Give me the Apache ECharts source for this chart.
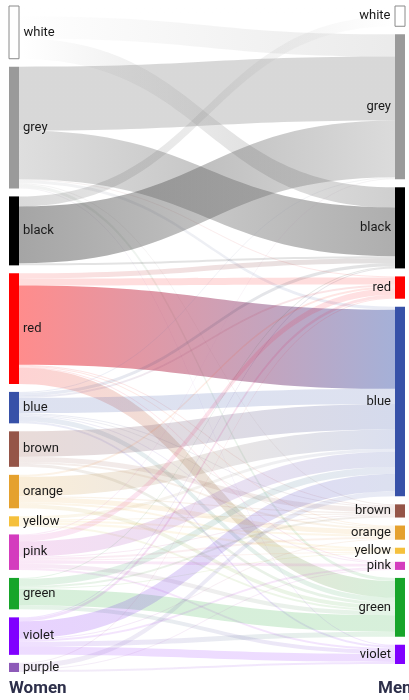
<!DOCTYPE html>
<html>
<head>
<meta charset="utf-8">
<script src="https://cdn.jsdelivr.net/npm/echarts@6/dist/echarts.min.js"></script>
<style>
html,body{margin:0;padding:0;background:#fff;}
#chart{width:409px;height:700px;}
</style>
</head>
<body>
<div id="chart"></div>
<script>
// Categories
const womenColors = ['white','grey','black','red','blue','brown','orange','yellow','pink','green','violet','purple'];
const menColors   = ['white','grey','black','red','blue','brown','orange','yellow','pink','green','violet'];

// Flows from each women's colour to men's colours (in menColors order)
const fromWhite  = [10,22,20, 0, 0, 0, 0, 0, 0, 0, 0];
const fromGrey   = [ 0,63,48, 1, 3, 1, 0, 0, 0, 3, 1];
const fromBlack  = [10,56, 2, 0, 0, 0, 0, 0, 0, 0, 0];
const fromRed    = [ 0, 0, 5, 7,78, 1, 1, 0, 1,16, 0];
const fromBlue   = [ 0, 1, 3, 2,15, 1, 1, 0, 1, 5, 2];
const fromBrown  = [ 0, 0, 0, 0,25, 5, 2, 0, 0, 3, 0];
const fromOrange = [ 0, 0, 0, 2,19, 1, 5, 2, 0, 4, 0];
const fromYellow = [ 0, 0, 0, 0, 3, 1, 2, 2, 0, 2, 0];
const fromPink   = [ 0, 1, 0, 6,15, 1, 2, 1, 3, 4, 2];
const fromGreen  = [ 0, 0, 1, 0, 7, 2, 0, 1, 0,16, 4];
const fromViolet = [ 0, 0, 1, 3,17, 0, 1, 0, 2, 5, 8];
const fromPurple = [ 0, 0, 0, 1, 5, 0, 0, 0, 1, 0, 2];
const flowRows = [fromWhite,fromGrey,fromBlack,fromRed,fromBlue,fromBrown,fromOrange,fromYellow,fromPink,fromGreen,fromViolet,fromPurple];

// Colour swatches
const swatch = {
  white:'#ffffff', grey:'#9a9a9a', black:'#000000', red:'#ff0000', blue:'#3751a8',
  brown:'#955548', orange:'#e5a12e', yellow:'#f5c03c', pink:'#d43cbe', green:'#17a52a',
  violet:'#8000ff', purple:'#8d5ab8'
};

function nodeItem(prefix, c, side){
  return {
    name: prefix + c,
    itemStyle: c === 'white'
      ? {color:'#ffffff', borderColor:'#8a8a8a', borderWidth:1}
      : {color: swatch[c], borderWidth:0},
    label: {position: side, distance: 4}
  };
}
const nodes = womenColors.map(c => nodeItem('W:', c, 'right'))
  .concat(menColors.map(c => nodeItem('M:', c, 'left')));

const links = [];
womenColors.forEach((w, i) => {
  flowRows[i].forEach((v, j) => {
    if (v > 0) links.push({
      source:'W:' + w, target:'M:' + menColors[j], value:v,
      lineStyle:{opacity: 0.1 + 0.0045 * v}
    });
  });
});

const chart = echarts.init(document.getElementById('chart'));
chart.setOption({
  animation:false,
  series:[{
    type:'sankey',
    left:9, right:4, top:6, bottom:28,
    nodeWidth:10,
    nodeGap:8,
    layoutIterations:0,
    draggable:false,
    emphasis:{disabled:true},
    data:nodes,
    links:links,
    label:{
      fontFamily:'Roboto',
      fontSize:13,
      color:'#1a1a1a',
      formatter: p => p.name.slice(2)
    },
    lineStyle:{color:'gradient', curveness:0.5}
  }],
  graphic:[
    {type:'text', left:9, top:680, style:{text:'Women', font:'bold 17px Roboto', fill:'#2d2f4a'}},
    {type:'text', left:378, top:680, style:{text:'Men', font:'bold 17px Roboto', fill:'#2d2f4a'}}
  ]
});
</script>
</body>
</html>
